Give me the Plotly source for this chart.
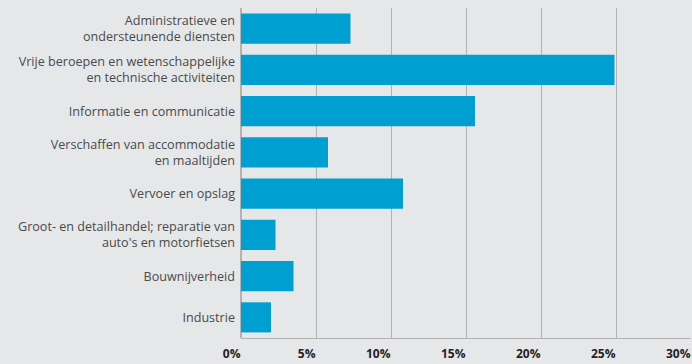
import plotly.graph_objects as go

categories = [
    "Administratieve en<br>ondersteunende diensten",
    "Vrije beroepen en wetenschappelijke<br>en technische activiteiten",
    "Informatie en communicatie",
    "Verschaffen van accommodatie<br>en maaltijden",
    "Vervoer en opslag",
    "Groot- en detailhandel; reparatie van<br>auto's en motorfietsen",
    "Bouwnijverheid",
    "Industrie",
]
values = [7.3, 24.9, 15.6, 5.8, 10.8, 2.3, 3.5, 2.0]
tick_vals = [0, 5, 10, 15, 20, 25, 30]
tick_text = ["0%", "5%", "10%", "15%", "20%", "25%", "30%"]

bg = "#e6e7e9"

fig = go.Figure(
    go.Bar(
        x=values,
        y=categories,
        orientation="h",
        marker=dict(color="#009fd2", line=dict(width=0)),
    )
)

fig.update_layout(
    width=692,
    height=364,
    margin=dict(l=241, r=1, t=8, b=26),
    paper_bgcolor=bg,
    plot_bgcolor=bg,
    bargap=0.27,
    showlegend=False,
    font=dict(family="Open Sans, sans-serif", color="#4a4a4a"),
)

fig.update_xaxes(
    range=[0, 30],
    tickvals=tick_vals,
    ticktext=tick_text,
    showgrid=True,
    gridcolor="#b3b3b3",
    gridwidth=1,
    zeroline=True,
    zerolinecolor="#b3b3b3",
    showline=True,
    linecolor="#b3b3b3",
    ticks="",
    automargin=False,
    ticklabelposition="outside left",
    ticklabeloverflow="allow",
    ticklabelstandoff=5,
    tickfont=dict(size=12, color="#222222", family="Open Sans, sans-serif", weight="bold"),
    fixedrange=True,
)

fig.update_yaxes(
    autorange="reversed",
    ticks="",
    automargin=False,
    ticklabelstandoff=5,
    tickfont=dict(size=12.6, color="#4a4a4a"),
    showgrid=False,
    fixedrange=True,
)

# drop the default page margin so the figure fills the window
fig.write_html(
    "out.html",
    config={"displayModeBar": False},
    post_script="document.body.style.margin='0';document.body.style.overflow='hidden';",
)
